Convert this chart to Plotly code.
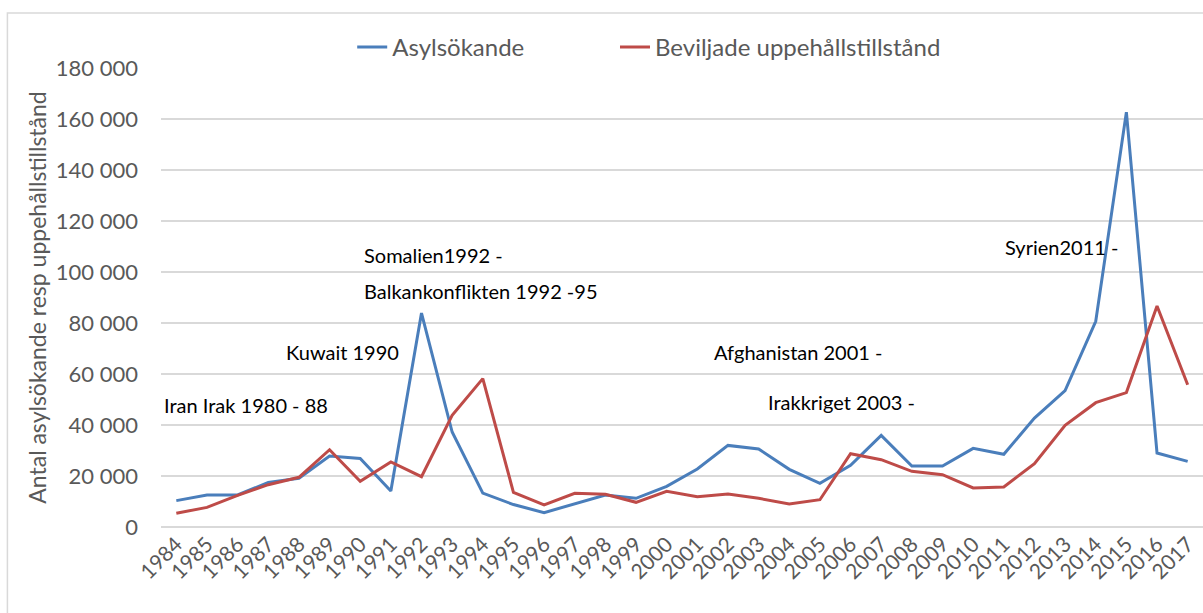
import plotly.graph_objects as go

years = list(range(1984, 2018))
asylsokande = [10350, 12550, 12550, 17500, 19100, 27800, 26900, 14100, 83900, 37250,
               13300, 8800, 5630, 9170, 12550, 11250, 15950, 22750, 32000, 30600,
               22600, 17100, 24200, 35950, 23900, 23900, 30850, 28500, 42700, 53450,
               80650, 162700, 29000, 25750]
beviljade = [5370, 7700, 12400, 16600, 19500, 30300, 17900, 25500, 19750, 43800,
             58200, 13600, 8630, 13200, 12800, 9680, 14000, 11900, 12950, 11250,
             9000, 10700, 28750, 26400, 21850, 20500, 15300, 15700, 24850, 39850,
             48750, 52700, 86650, 55800]
y_ticks = [0, 20000, 40000, 60000, 80000, 100000, 120000, 140000, 160000, 180000]

# annotation texts with paper positions (left x, center y)
notes = [
    ("Iran Irak 1980 - 88", 0.001, 0.266),
    ("Kuwait 1990", 0.118, 0.381),
    ("Somalien1992 -", 0.193, 0.593),
    ("Balkankonflikten 1992 -95", 0.193, 0.514),
    ("Afghanistan 2001 -", 0.529, 0.381),
    ("Irakkriget 2003 -", 0.581, 0.272),
    ("Syrien2011 -", 0.808, 0.610),
]

FONT = "Lato, Calibri, sans-serif"
GRAY = "#595959"

fig = go.Figure()
fig.add_trace(go.Scatter(x=years, y=asylsokande, mode="lines", name="Asylsökande",
                         line=dict(color="#4A7EBB", width=3), legend="legend"))
fig.add_trace(go.Scatter(x=years, y=beviljade, mode="lines", name="Beviljade uppehållstillstånd",
                         line=dict(color="#BE4B48", width=3), legend="legend2"))

for text, x, y in notes:
    fig.add_annotation(text=text, x=x, y=y, xref="paper", yref="paper",
                       xanchor="left", yanchor="middle", showarrow=False,
                       font=dict(family=FONT, size=20, color="#000000"))

# outer chart border
fig.add_shape(type="rect", xref="paper", yref="paper", x0=-0.1474, x1=1.2, y0=-0.4, y1=1.1198,
              line=dict(color="#D9D9D9", width=1.5), layer="below")

legend_common = dict(orientation="h", yanchor="middle", xanchor="left",
                     font=dict(family=FONT, size=24, color=GRAY),
                     itemwidth=30, bgcolor="rgba(0,0,0,0)")

fig.update_layout(
    width=1203, height=613,
    margin=dict(l=161, r=0, t=68, b=86),
    paper_bgcolor="white", plot_bgcolor="white",
    separators=", ",
    font=dict(family=FONT, color=GRAY),
    showlegend=True,
    legend=dict(x=0.1835, y=1.045, **legend_common),
    legend2=dict(x=0.4357, y=1.045, **legend_common),
    xaxis=dict(range=[1983.5, 2017.5], tickmode="array", tickvals=years,
               ticktext=[str(y) for y in years], tickangle=-45,
               tickfont=dict(family=FONT, size=21, color=GRAY),
               showgrid=False, showline=False, zeroline=False, ticks=""),
    yaxis=dict(range=[0, 180000], tickvals=y_ticks, tickformat=",d",
               tickfont=dict(family=FONT, size=22, color=GRAY),
               gridcolor="#D9D9D9", gridwidth=1.5, zeroline=True, zerolinecolor="#D9D9D9",
               zerolinewidth=1.5, showline=False, ticks="", ticklabelstandoff=22,
               title=dict(text="Antal asylsökande resp uppehållstillstånd",
                          font=dict(family=FONT, size=23, color=GRAY), standoff=2)),
)

fig.write_html("out.html", config={"displayModeBar": False},
               post_script="document.body.style.margin='0';")
